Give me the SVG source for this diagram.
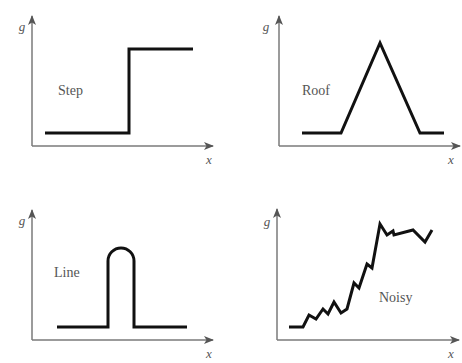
<svg xmlns="http://www.w3.org/2000/svg" width="462" height="363" viewBox="0 0 462 363">
<style>
.axis{stroke:#7a7a7a;stroke-width:1.5;fill:none}
.curve{stroke:#111;stroke-width:3;fill:none;stroke-linejoin:miter}
.lbl{font-family:"Liberation Serif",serif;font-size:14px;fill:#555}
.var{font-family:"Liberation Serif",serif;font-style:italic;font-size:13px;fill:#555;text-anchor:middle}
</style>
<defs>
<marker id="ah" viewBox="0 0 10 8" refX="9" refY="4" markerWidth="10" markerHeight="8" markerUnits="userSpaceOnUse" orient="auto">
<path d="M0,0 L10,4 L0,8 L2.5,4 Z" fill="#555"/>
</marker>
</defs>
<rect width="462" height="363" fill="#fff"/>
<g id="axes">
<path class="axis" d="M32,146 V16" marker-end="url(#ah)"/>
<path class="axis" d="M32,146 H213" marker-end="url(#ah)"/>
<path class="axis" d="M279,146 V16" marker-end="url(#ah)"/>
<path class="axis" d="M279,146 H460" marker-end="url(#ah)"/>
<path class="axis" d="M32,340 V210" marker-end="url(#ah)"/>
<path class="axis" d="M32,340 H213" marker-end="url(#ah)"/>
<path class="axis" d="M277,340 V209" marker-end="url(#ah)"/>
<path class="axis" d="M277,340 H459" marker-end="url(#ah)"/>
</g>
<g id="step">
<path class="curve" d="M45,133 H129 V49 H193"/>
<text class="lbl" x="58" y="95">Step</text>
<text class="var" x="22" y="31">g</text>
<text class="var" x="209" y="164">x</text>
</g>
<g id="roof">
<path class="curve" d="M302,133 H341 L380,43 L420,133 H444"/>
<text class="lbl" x="302" y="95">Roof</text>
<text class="var" x="266" y="31">g</text>
<text class="var" x="451" y="164">x</text>
</g>
<g id="line">
<path class="curve" d="M57,327 H108 V261 A13,13 0 0 1 134,261 V327 H187"/>
<text class="lbl" x="54" y="277">Line</text>
<text class="var" x="22" y="225">g</text>
<text class="var" x="209" y="358">x</text>
</g>
<g id="noisy">
<path class="curve" d="M289,327 L303,327 L309,315 L316,319 L323,309 L328,314 L334,302 L341,313 L347,309 L354,283 L359,288 L367,264 L372,268 L380,224 L387,235 L393,231 L394,235 L413,230 L425,242 L432,230"/>
<text class="lbl" x="379" y="302">Noisy</text>
<text class="var" x="267" y="226">g</text>
<text class="var" x="451" y="358">x</text>
</g>
</svg>
